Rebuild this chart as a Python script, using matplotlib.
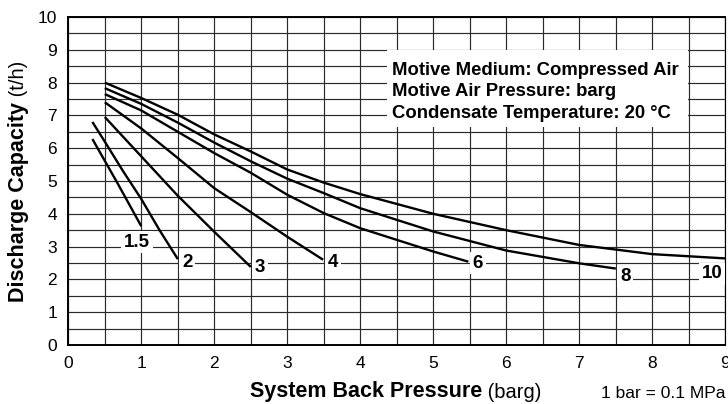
import matplotlib
matplotlib.use("Agg")
import matplotlib.pyplot as plt
from matplotlib.patches import Rectangle
from matplotlib.ticker import MultipleLocator

plt.rcParams["font.family"] = ["Liberation Sans", "DejaVu Sans"]

# motive air pressure (barg) for each curve
pressures = ["1.5", "2", "3", "4", "6", "8", "10"]

x_15 = [0.33, 0.67, 1.0]
y_15 = [6.28, 4.95, 3.62]

x_2 = [0.33, 0.5, 0.75, 1.0, 1.25, 1.5]
y_2 = [6.8, 6.2, 5.3, 4.45, 3.5, 2.62]

x_3 = [0.5, 1.0, 1.5, 2.0, 2.5]
y_3 = [6.95, 5.75, 4.55, 3.45, 2.38]

x_4 = [0.5, 1.0, 1.5, 2.0, 2.5, 3.0, 3.49]
y_4 = [7.4, 6.6, 5.7, 4.78, 4.05, 3.3, 2.6]

x_6 = [0.5, 1.0, 1.5, 2.0, 2.5, 3.0, 3.5, 4.0, 5.0, 5.48]
y_6 = [7.65, 7.15, 6.5, 5.85, 5.25, 4.58, 4.02, 3.56, 2.85, 2.54]

x_8 = [0.5, 1.0, 1.5, 2.0, 2.5, 3.0, 3.5, 4.0, 5.0, 6.0, 7.0, 7.5]
y_8 = [7.83, 7.35, 6.78, 6.17, 5.6, 5.07, 4.63, 4.17, 3.46, 2.88, 2.49, 2.33]

x_10 = [0.5, 1.0, 1.5, 2.0, 2.5, 3.0, 3.5, 4.0, 5.0, 6.0, 7.0, 8.0, 9.0]
y_10 = [8.0, 7.53, 7.02, 6.42, 5.9, 5.35, 4.95, 4.6, 4.0, 3.5, 3.05, 2.77, 2.64]

curves_x = [x_15, x_2, x_3, x_4, x_6, x_8, x_10]
curves_y = [y_15, y_2, y_3, y_4, y_6, y_8, y_10]

# where each curve's label sits
label_x = [0.94, 1.63, 2.63, 3.63, 5.61, 7.63, 8.82]
label_y = [3.14, 2.53, 2.35, 2.53, 2.50, 2.08, 2.17]

info_lines = [
    "Motive Medium: Compressed Air",
    "Motive Air Pressure: barg",
    "Condensate Temperature: 20 °C",
]

fig = plt.figure(figsize=(7.28, 4.04), dpi=100)
ax = fig.add_axes([68.3 / 728, 59 / 404, 657 / 728, 328 / 404])

ax.set_xlim(0, 9)
ax.set_ylim(0, 10)
ax.xaxis.set_major_locator(MultipleLocator(1))
ax.yaxis.set_major_locator(MultipleLocator(1))
ax.xaxis.set_minor_locator(MultipleLocator(0.5))
ax.yaxis.set_minor_locator(MultipleLocator(0.5))
ax.tick_params(which="both", length=0)
ax.tick_params(axis="x", pad=8, labelsize=12.5)
ax.tick_params(axis="y", pad=8, labelsize=12.5)
ax.set_axisbelow(True)
ax.grid(which="both", color="#2a2a2a", linewidth=0.85)

for side in ["left", "bottom", "top"]:
    ax.spines[side].set_linewidth(1.4)
ax.spines["right"].set_linewidth(0.85)

for xs, ys in zip(curves_x, curves_y):
    ax.plot(xs, ys, color="black", linewidth=1.7, zorder=3,
            solid_capstyle="butt", solid_joinstyle="round")

for name, lx, ly in zip(pressures, label_x, label_y):
    ax.text(lx, ly, name, ha="center", va="center", fontsize=13.5,
            fontweight="bold", zorder=4,
            bbox=dict(facecolor="white", edgecolor="none", pad=2.0))

ax.add_patch(Rectangle((4.37, 6.65), 4.12, 2.35, facecolor="white",
                       edgecolor="none", zorder=2))
for i, line in enumerate(info_lines):
    ax.text(4.43, 8.38 - i * 0.66, line, ha="left", va="center",
            fontsize=13.3, fontweight="bold", zorder=4)

# axis titles: bold part followed by plain unit
fig.canvas.draw()
renderer = fig.canvas.get_renderer()

xb = fig.text(0, 0, "System Back Pressure", fontsize=15.5, fontweight="bold",
              ha="left", va="center")
xu = fig.text(0, 0, " (barg)", fontsize=14.5, ha="left", va="center")
wb = xb.get_window_extent(renderer).width
wu = xu.get_window_extent(renderer).width
start = 396 - (wb + wu) / 2
yc = (404 - 392) / 404
xb.set_position((start / 728, yc))
xu.set_position(((start + wb) / 728, yc))

fig.text(601 / 728, (404 - 393) / 404, "1 bar = 0.1 MPa", fontsize=12.5,
         ha="left", va="center")

yb = fig.text(0, 0, "Discharge Capacity", fontsize=15.5, fontweight="bold",
              rotation=90, ha="center", va="bottom")
yu = fig.text(0, 0, " (t/h)", fontsize=14.5, rotation=90, ha="center", va="bottom")
hb = yb.get_window_extent(renderer).height
hu = yu.get_window_extent(renderer).height
bottom = (404 - 181) - (hb + hu) / 2
xc = 19 / 728
yb.set_position((xc, bottom / 404))
yu.set_position((xc, (bottom + hb) / 404))

fig.savefig("out.png", dpi=100)
